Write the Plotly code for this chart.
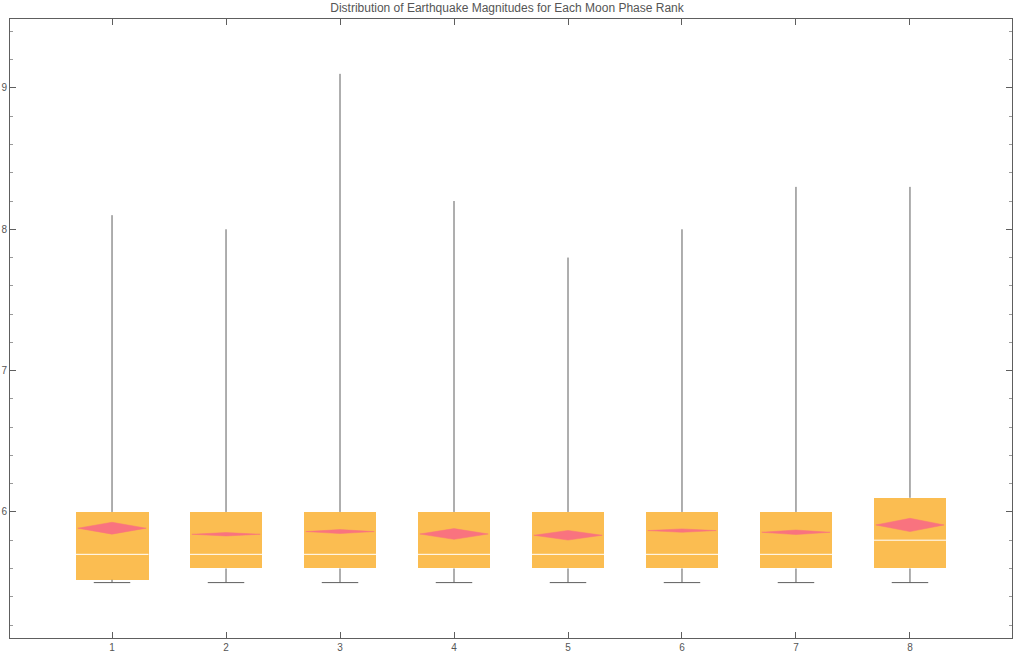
import plotly.graph_objects as go

# moon phase rank and per-rank summary statistics of magnitudes
ranks = [1, 2, 3, 4, 5, 6, 7, 8]
mins = [5.5, 5.5, 5.5, 5.5, 5.5, 5.5, 5.5, 5.5]
q1s = [5.52, 5.6, 5.6, 5.6, 5.6, 5.6, 5.6, 5.6]
medians = [5.7, 5.7, 5.7, 5.7, 5.7, 5.7, 5.7, 5.8]
q3s = [6.0, 6.0, 6.0, 6.0, 6.0, 6.0, 6.0, 6.1]
maxs = [8.1, 8.0, 9.1, 8.2, 7.8, 8.0, 8.3, 8.3]
means = [5.885, 5.842, 5.861, 5.844, 5.835, 5.868, 5.856, 5.908]
mean_ci = [0.042, 0.012, 0.014, 0.038, 0.034, 0.012, 0.016, 0.047]

BOX_W = 0.64
CAP_W = 0.16
ORANGE = "#FBBD51"
PINK = "#F9737F"
GRAY = "#5e5e5e"

fig = go.Figure()

# whiskers (scatter sits above bars, so split into two pieces)
wx, wy = [], []
for r, lo, a, b, hi in zip(ranks, mins, q1s, q3s, maxs):
    wx += [r, r, None, r, r, None, r - CAP_W, r + CAP_W, None]
    wy += [b, hi, None, lo, a, None, lo, lo, None]
fig.add_trace(go.Scatter(x=wx, y=wy, mode="lines",
                         line=dict(color=GRAY, width=1),
                         hoverinfo="skip", showlegend=False))

# boxes
fig.add_trace(go.Bar(x=ranks, y=[b - a for a, b in zip(q1s, q3s)], base=q1s,
                     width=BOX_W, marker=dict(color=ORANGE, line=dict(width=0)),
                     showlegend=False))

# medians
mx, my = [], []
for r, m in zip(ranks, medians):
    mx += [r - BOX_W / 2, r + BOX_W / 2, None]
    my += [m, m, None]
fig.add_trace(go.Scatter(x=mx, y=my, mode="lines",
                         line=dict(color="white", width=1),
                         hoverinfo="skip", showlegend=False))

# mean diamonds
dx, dy = [], []
for r, m, c in zip(ranks, means, mean_ci):
    hw = BOX_W / 2 - 0.02
    dx += [r - hw, r, r + hw, r, r - hw, None]
    dy += [m, m + c, m, m - c, m, None]
fig.add_trace(go.Scatter(x=dx, y=dy, mode="lines", fill="toself",
                         fillcolor=PINK, line=dict(color=PINK, width=0.5),
                         hoverinfo="skip", showlegend=False))

axis_font = dict(family="Liberation Sans, Arial, sans-serif", size=10, color="#555555")

fig.update_layout(
    width=1014, height=656,
    paper_bgcolor="white", plot_bgcolor="white",
    margin=dict(l=10, r=2, t=19, b=18),
    bargap=0,
    title=dict(text="Distribution of Earthquake Magnitudes for Each Moon Phase Rank",
               x=0.5, xanchor="center", y=0.995, yanchor="top",
               font=dict(family="Liberation Sans, Arial, sans-serif", size=12, color="#555555")),
    xaxis=dict(range=[0.105, 8.895], tickvals=ranks, ticktext=[str(r) for r in ranks],
               showgrid=False, zeroline=False, showline=True, linecolor=GRAY, linewidth=1,
               mirror="ticks", ticks="inside", ticklen=6, tickcolor=GRAY,
               tickfont=axis_font, automargin=False),
    yaxis=dict(range=[5.108, 9.488], tickvals=[6, 7, 8, 9],
               showgrid=False, zeroline=False, showline=True, linecolor=GRAY, linewidth=1,
               mirror="ticks", ticks="inside", ticklen=6, tickcolor=GRAY,
               minor=dict(dtick=0.2, tick0=5, ticks="inside", ticklen=3, tickcolor="#999999"),
               tickfont=axis_font, automargin=False),
)

fig.write_html("out.html", config={"displayModeBar": False},
               post_script="document.body.style.margin='0';document.body.style.overflow='hidden';")
